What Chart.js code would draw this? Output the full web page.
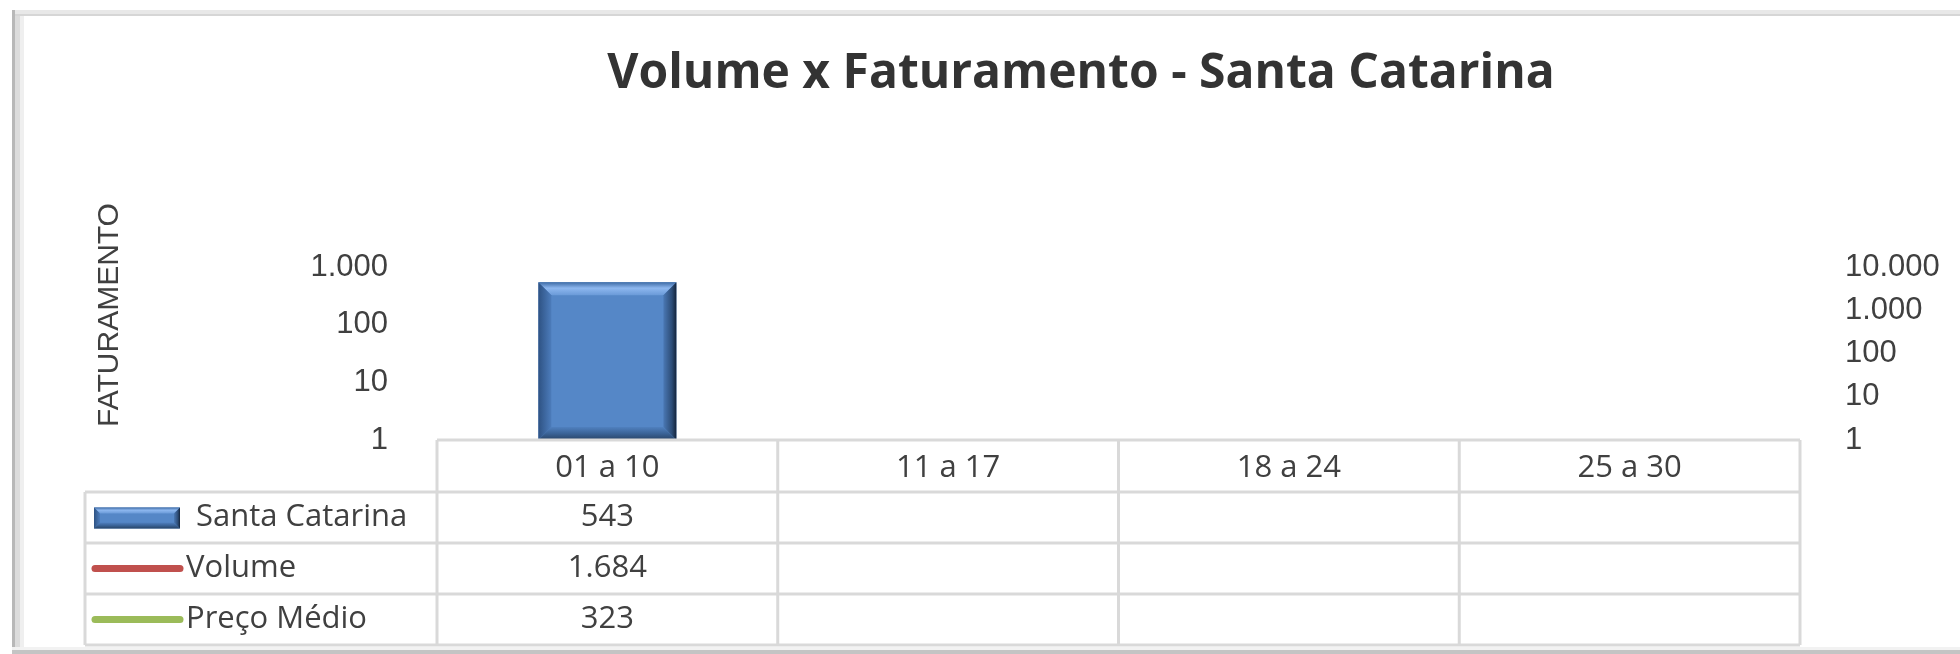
<!DOCTYPE html>
<html>
<head>
<meta charset="utf-8">
<title>Volume x Faturamento - Santa Catarina</title>
<script src="https://cdn.jsdelivr.net/npm/chart.js@4.4.1/dist/chart.umd.min.js"></script>
<style>
  html, body { margin: 0; padding: 0; background: #fff; }
  #wrap { width: 1960px; height: 654px; }
</style>
</head>
<body>
<div id="wrap"><canvas id="grafico" width="1960" height="654"></canvas></div>
<script>
// dados do periodo
const periodos = ['01 a 10', '11 a 17', '18 a 24', '25 a 30'];
const faturamento = [543, null, null, null];   // Santa Catarina
const volume = [1684, null, null, null];
const precoMedio = [323, null, null, null];
const ticksFat = [1, 10, 100, 1000];
const ticksVol = [1, 10, 100, 1000, 10000];

const COR_TEXTO = '#404040';
const COR_GRADE = '#D9D9D9';
const AZUL = '#5587C7';
const VERMELHO = '#C0504D';
const VERDE = '#9BBB59';

// 1.684 / 10.000 style
function fmt(v) {
    return String(v).replace(/\B(?=(\d{3})+(?!\d))/g, '.');
}

// bevel effect like the excel bars
function desenhaBisel(ctx, l, t, r, b, bs) {
    let g;
    // topo
    g = ctx.createLinearGradient(0, t, 0, t + bs);
    g.addColorStop(0, '#3F6CA6');
    g.addColorStop(0.45, '#8DB7EF');
    g.addColorStop(1, '#6A9AD8');
    ctx.fillStyle = g;
    ctx.beginPath();
    ctx.moveTo(l, t); ctx.lineTo(r, t); ctx.lineTo(r - bs, t + bs); ctx.lineTo(l + bs, t + bs);
    ctx.closePath(); ctx.fill();
    // esquerda
    g = ctx.createLinearGradient(l, 0, l + bs, 0);
    g.addColorStop(0, '#2E5283');
    g.addColorStop(1, '#4C7CBB');
    ctx.fillStyle = g;
    ctx.beginPath();
    ctx.moveTo(l, t); ctx.lineTo(l + bs, t + bs); ctx.lineTo(l + bs, b - bs); ctx.lineTo(l, b);
    ctx.closePath(); ctx.fill();
    // direita
    g = ctx.createLinearGradient(r, 0, r - bs, 0);
    g.addColorStop(0, '#14243A');
    g.addColorStop(0.35, '#2D4D77');
    g.addColorStop(1, '#4A78B4');
    ctx.fillStyle = g;
    ctx.beginPath();
    ctx.moveTo(r, t); ctx.lineTo(r, b); ctx.lineTo(r - bs, b - bs); ctx.lineTo(r - bs, t + bs);
    ctx.closePath(); ctx.fill();
    // base
    g = ctx.createLinearGradient(0, b, 0, b - bs);
    g.addColorStop(0, '#284366');
    g.addColorStop(0.5, '#3A6397');
    g.addColorStop(1, '#5080BF');
    ctx.fillStyle = g;
    ctx.beginPath();
    ctx.moveTo(l, b); ctx.lineTo(r, b); ctx.lineTo(r - bs, b - bs); ctx.lineTo(l + bs, b - bs);
    ctx.closePath(); ctx.fill();
}

// frame, title, y title and data table
const tabelaPlugin = {
    id: 'tabela',
    beforeDraw(chart) {
        const ctx = chart.ctx;
        ctx.save();
        ctx.fillStyle = '#fff';
        ctx.fillRect(0, 0, chart.width, chart.height);
        // moldura
        ctx.fillStyle = '#E8E8E8';
        ctx.fillRect(12, 10, chart.width - 12, 4);
        ctx.fillStyle = '#D6D6D6';
        ctx.fillRect(12, 14, chart.width - 12, 2);
        ctx.fillStyle = '#B8B8B8';
        ctx.fillRect(12, 10, 3, chart.height - 10);
        ctx.fillStyle = '#DCDCDC';
        ctx.fillRect(15, 16, 5, chart.height - 16);
        ctx.fillStyle = '#EFEFEF';
        ctx.fillRect(20, 16, 4, chart.height - 16);
        ctx.fillStyle = '#F2F2F2';
        ctx.fillRect(12, 647, chart.width - 12, 3);
        ctx.fillStyle = '#C4C4C4';
        ctx.fillRect(12, 650, chart.width - 12, 4);
        ctx.restore();
    },
    afterDatasetsDraw(chart) {
        const ctx = chart.ctx;
        const meta = chart.getDatasetMeta(0);
        meta.data.forEach((bar, i) => {
            if (faturamento[i] == null) return;
            const p = bar.getProps(['x', 'y', 'base', 'width'], true);
            desenhaBisel(ctx, p.x - p.width / 2, p.y, p.x + p.width / 2, p.base, 13);
        });
    },
    afterDraw(chart) {
        const ctx = chart.ctx;
        const xs = chart.scales.x;
        const area = chart.chartArea;
        const n = periodos.length;
        const w = (xs.right - xs.left) / n;
        const topo = area.bottom;
        const linhas = [topo, topo + 52, topo + 103, topo + 154, topo + 205];
        const colEsq = 85;

        ctx.save();
        // titulo
        ctx.fillStyle = '#333333';
        ctx.font = 'bold 48px "Open Sans"';
        ctx.textAlign = 'center';
        ctx.textBaseline = 'middle';
        ctx.fillText('Volume x Faturamento - Santa Catarina', 1081, 74);

        // titulo do eixo
        ctx.save();
        ctx.translate(110, 315);
        ctx.rotate(-Math.PI / 2);
        ctx.font = '30px "Liberation Sans"';
        ctx.fillStyle = COR_TEXTO;
        ctx.fillText('FATURAMENTO', 0, 0);
        ctx.restore();

        // grade da tabela
        ctx.strokeStyle = COR_GRADE;
        ctx.lineWidth = 3;
        ctx.beginPath();
        ctx.moveTo(xs.left, linhas[0]); ctx.lineTo(xs.right, linhas[0]);
        for (let k = 1; k < linhas.length; k++) {
            ctx.moveTo(colEsq, linhas[k]); ctx.lineTo(xs.right, linhas[k]);
        }
        for (let i = 0; i <= n; i++) {
            const x = xs.left + i * w;
            ctx.moveTo(x, linhas[0]); ctx.lineTo(x, linhas[4]);
        }
        ctx.moveTo(colEsq, linhas[1]); ctx.lineTo(colEsq, linhas[4]);
        ctx.stroke();

        // cabecalho e valores
        ctx.fillStyle = COR_TEXTO;
        ctx.font = '31px "Open Sans"';
        ctx.textAlign = 'center';
        const series = [faturamento, volume, precoMedio];
        periodos.forEach((p, i) => {
            const cx = xs.getPixelForValue(i);
            ctx.fillText(p, cx, (linhas[0] + linhas[1]) / 2 + 2);
            series.forEach((s, k) => {
                if (s[i] != null) ctx.fillText(fmt(s[i]), cx, (linhas[k + 1] + linhas[k + 2]) / 2);
            });
        });

        // chaves da legenda
        const nomes = chart.data.datasets.map(d => d.label);
        const ym = k => (linhas[k + 1] + linhas[k + 2]) / 2;
        ctx.fillStyle = AZUL;
        ctx.fillRect(94, ym(0) - 10, 86, 21);
        desenhaBisel(ctx, 94, ym(0) - 10, 180, ym(0) + 11, 6);
        ctx.lineCap = 'round';
        ctx.lineWidth = 7;
        ctx.strokeStyle = VERMELHO;
        ctx.beginPath(); ctx.moveTo(95, ym(1)); ctx.lineTo(180, ym(1)); ctx.stroke();
        ctx.strokeStyle = VERDE;
        ctx.beginPath(); ctx.moveTo(95, ym(2)); ctx.lineTo(180, ym(2)); ctx.stroke();

        ctx.fillStyle = COR_TEXTO;
        ctx.textAlign = 'left';
        ctx.fillText(nomes[0], 196, ym(0));
        ctx.fillText(nomes[1], 186, ym(1));
        ctx.fillText(nomes[2], 186, ym(2));
        ctx.restore();
    }
};

const fonteEixo = { family: 'Liberation Sans', size: 31 };

new Chart(document.getElementById('grafico'), {
    type: 'bar',
    data: {
        labels: periodos,
        datasets: [
            {
                label: 'Santa Catarina',
                data: faturamento,
                backgroundColor: AZUL,
                yAxisID: 'y',
                categoryPercentage: 1,
                barPercentage: 0.405,
                order: 2
            },
            {
                type: 'line',
                label: 'Volume',
                data: volume,
                borderColor: VERMELHO,
                borderWidth: 5,
                pointRadius: 0,
                yAxisID: 'y1',
                order: 1
            },
            {
                type: 'line',
                label: 'Preço Médio',
                data: precoMedio,
                borderColor: VERDE,
                borderWidth: 5,
                pointRadius: 0,
                yAxisID: 'y1',
                order: 0
            }
        ]
    },
    options: {
        responsive: false,
        animation: false,
        layout: { padding: { top: 267, left: 0, right: 0, bottom: 0 } },
        plugins: {
            legend: { display: false },
            tooltip: { enabled: false },
            title: { display: false }
        },
        scales: {
            x: {
                offset: true,
                grid: { display: false },
                border: { display: false },
                ticks: { display: false },
                afterFit: s => { s.height = 214; }
            },
            y: {
                type: 'logarithmic',
                position: 'left',
                min: 1,
                max: 1000,
                grid: { display: false },
                border: { display: false },
                afterBuildTicks: s => { s.ticks = ticksFat.map(v => ({ value: v })); },
                ticks: { font: fonteEixo, color: COR_TEXTO, padding: 41, callback: v => fmt(v) },
                afterFit: s => { s.width = 437; }
            },
            y1: {
                type: 'logarithmic',
                position: 'right',
                min: 1,
                max: 10000,
                grid: { display: false },
                border: { display: false },
                afterBuildTicks: s => { s.ticks = ticksVol.map(v => ({ value: v })); },
                ticks: { font: fonteEixo, color: COR_TEXTO, padding: 37, callback: v => fmt(v) },
                afterFit: s => { s.width = 160; }
            }
        }
    },
    plugins: [tabelaPlugin]
});
</script>
</body>
</html>
